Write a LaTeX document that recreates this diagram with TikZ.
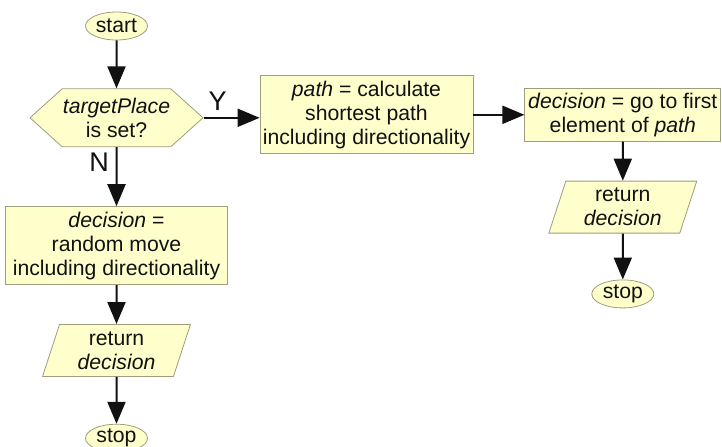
\documentclass[tikz,border=0pt]{standalone}
\usepackage{fontspec}
\setmainfont{Liberation Sans}
\usetikzlibrary{arrows.meta, positioning, calc, shapes.geometric, shapes.symbols}
\definecolor{ink}{HTML}{111111}
\definecolor{rim}{HTML}{9E9E7C}
\definecolor{boxfill}{HTML}{FFFFCC}

\begin{document}
\begin{tikzpicture}[
  node distance=25pt and 28pt,
  every node/.style={font=\fontsize{10.6pt}{12pt}\selectfont, text=ink},
  term/.style={ellipse, draw=rim, fill=boxfill, inner sep=0pt,
               minimum width=31pt, minimum height=14pt},
  cond/.style={signal, signal to=east and west, signal pointer angle=84,
               draw=rim, fill=boxfill, inner sep=0pt, align=center,
               minimum width=86.5pt, minimum height=29pt},
  proc/.style={rectangle, draw=rim, fill=boxfill, align=center, inner sep=0pt},
  io/.style={trapezium, trapezium left angle=73, trapezium right angle=107,
             trapezium stretches=true, draw=rim, fill=boxfill, inner sep=0pt,
             align=center, minimum width=74pt, minimum height=26pt},
  lbl/.style={font=\fontsize{13.5pt}{15pt}\selectfont},
  arr/.style={-{Triangle[length=11pt, width=9pt]}, line width=1pt, draw=ink}
]
\node[term] (start) {start};
\node[cond, below=24pt of start] (placeset) {\textit{targetPlace}\\is set?};
\node[proc, minimum width=106.5pt, minimum height=39pt, right=28pt of placeset, yshift=1.5pt] (shortest)
  {\textit{path} = calculate\\shortest path\\including directionality};
\node[proc, minimum width=98pt, minimum height=26.5pt, right=25.5pt of shortest] (firststep)
  {\textit{decision} = go to first\\element of \textit{path}};
\node[io, below=19.5pt of firststep] (retright) {return\\\textit{decision}};
\node[term, below=23pt of retright] (stopright) {stop};
\node[proc, minimum width=111pt, minimum height=39pt, below=29.5pt of placeset] (randmove)
  {\textit{decision} =\\random move\\including directionality};
\node[io, below=19.5pt of randmove] (retleft) {return\\\textit{decision}};
\node[term, below=23.5pt of retleft] (stopleft) {stop};

\draw[arr] (start) -- (placeset);
\draw[arr] (placeset.east) -- node[lbl, above, pos=0.25] (yes) {Y} (placeset.east -| shortest.west);
\draw[arr] (placeset) -- node[lbl, left, pos=0.25] (no) {N} (randmove);
\draw[arr] (shortest) -- (firststep);
\draw[arr] (firststep) -- (retright);
\draw[arr] (retright) -- (stopright);
\draw[arr] (randmove) -- (retleft);
\draw[arr] (retleft) -- (stopleft);

% page size of the original
\pgfresetboundingbox
\useasboundingbox ($(start.center)+(-58.25pt,13pt)$) rectangle ($(start.center)+(302.75pt,-210pt)$);
\end{tikzpicture}
\end{document}
